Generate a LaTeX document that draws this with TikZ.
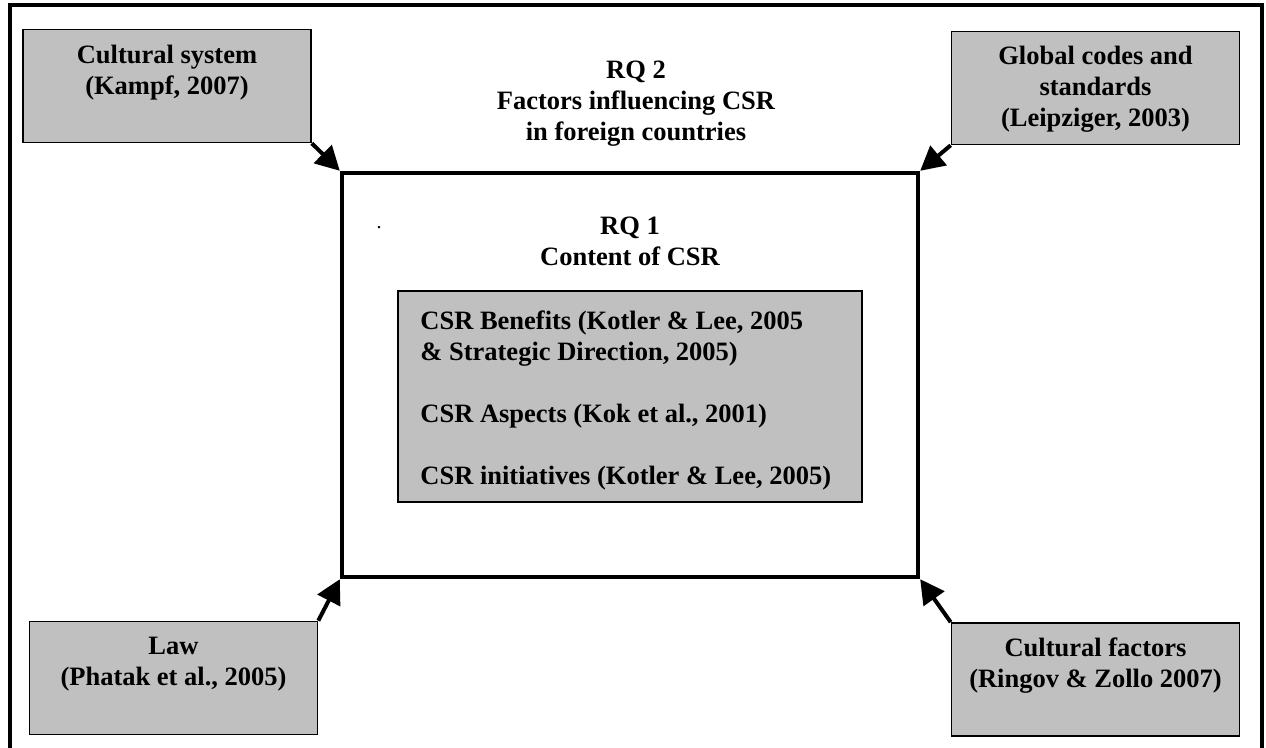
\documentclass[tikz,border=0pt]{standalone}
\usepackage{fontspec}
\setmainfont{Liberation Serif}
\usetikzlibrary{arrows.meta}
\definecolor{boxgrey}{RGB}{192,192,192}

\begin{document}
\begin{tikzpicture}[x=0.5pt,y=-0.5pt,
    greybox/.style={draw,fill=boxgrey,line width=0.8pt,inner sep=0,minimum width=144pt,minimum height=56.5pt},
    txt/.style={font=\bfseries\fontsize{13.25}{15.5}\selectfont,align=center,inner sep=0,anchor=north},
    arr/.style={line width=2pt,-{Triangle[length=12pt,width=12.5pt]}}]
    \useasboundingbox (0,0) rectangle (1266,748);
    %outer frame, open at the bottom
    \draw[line width=2pt] (10,760) |- (1262,5) -- (1262,760);
    %RQ 1 frame and the CSR box inside it
    \node[draw,line width=2.2pt,minimum width=288pt,minimum height=202pt] (main) at (630,375) {};
    \node[greybox,minimum width=232pt,minimum height=105.5pt] (csr) at (630,396.5) {};
    %the four influencing boxes
    \foreach \nm/\cx/\cy in {cult/167/86, glob/1095.5/88, law/173.5/678, cfac/1095.5/679.5}
        \node[greybox] (\nm) at (\cx,\cy) {};
    \node[txt] (culttext) at (167,45) {Cultural system\\(Kampf, 2007)};
    \node[txt] (globtext) at (1095.5,46) {Global codes and\\standards\\(Leipziger, 2003)};
    \node[txt] (lawtext) at (173.5,636.5) {Law\\(Phatak et al., 2005)};
    \node[txt] (cfactext) at (1095.5,637) {Cultural factors\\(Ringov \& Zollo 2007)};
    %research questions
    \node[txt] (rq2) at (636,60.5) {RQ 2\\Factors influencing CSR\\in foreign countries};
    \node[txt] (rq1) at (630,216.5) {RQ 1\\Content of CSR};
    \node[inner sep=0] (dot) at (379,228) {.};
    \node[txt,align=left,anchor=north west] (csrtext) at (420,310) {CSR Benefits (Kotler \& Lee, 2005\\\& Strategic Direction, 2005)\\[15.5pt]CSR Aspects (Kok et al., 2001)\\[15.5pt]CSR initiatives (Kotler \& Lee, 2005)};
    %arrows into the corners of the RQ 1 frame
    \foreach \a/\b in {cult.south east/main.north west, glob.south west/main.north east, law.north east/main.south west, cfac.north west/main.south east}
        \draw[arr] (\a) -- (\b);
\end{tikzpicture}
\end{document}
